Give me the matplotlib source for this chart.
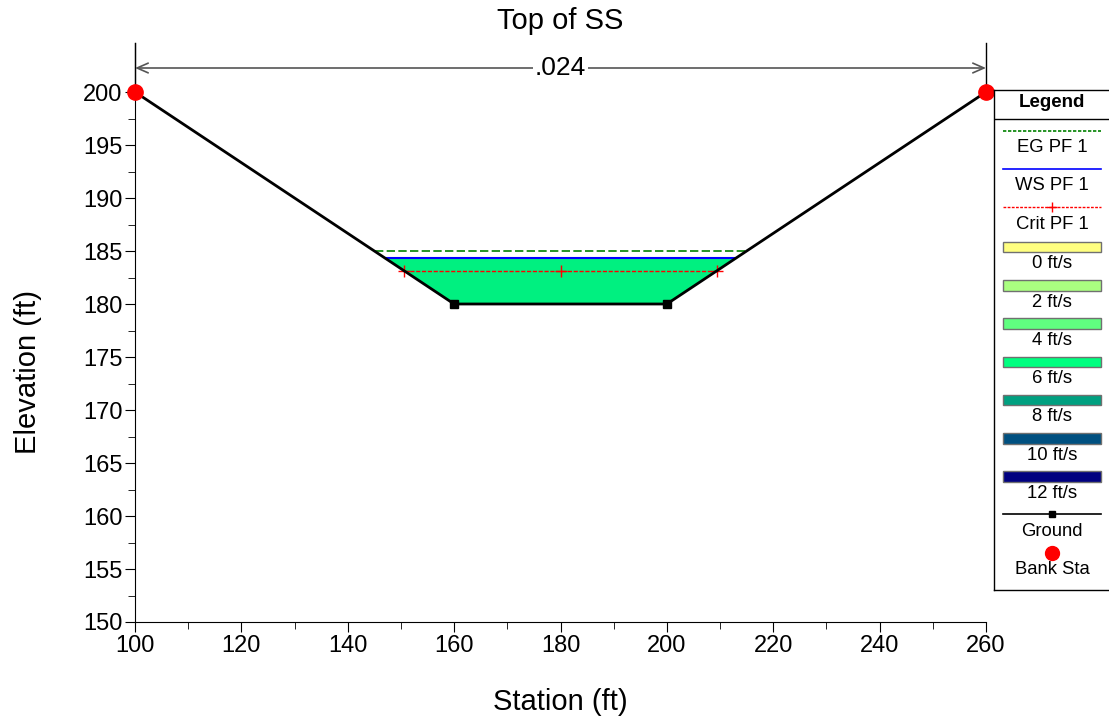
import numpy as np
import matplotlib
matplotlib.use("Agg")
import matplotlib.pyplot as plt
from matplotlib.patches import Rectangle, Polygon

plt.rcParams['font.family'] = ['Liberation Sans', 'DejaVu Sans']

# ---- data ----
station = [100, 160, 200, 260]
ground = [200, 180, 180, 200]
bank_sta = [100, 260]
bank_elev = [200, 200]
eg_elev = 184.98
ws_elev = 184.32
crit_elev = 183.15
n_value = ".024"
n_stations = [100, 260]
legend_labels = ["EG PF 1", "WS PF 1", "Crit PF 1", "0 ft/s", "2 ft/s", "4 ft/s",
                 "6 ft/s", "8 ft/s", "10 ft/s", "12 ft/s", "Ground", "Bank Sta"]
vel_colors = ["#FFFF80", "#AAFF80", "#60FF80", "#00FF80", "#00A080", "#005080", "#000080"]
water_color = "#00F080"

st = np.array(station, float)
gr = np.array(ground, float)


def crossings(level):
    # left and right stations where ground equals level
    left = np.interp(level, gr[:2][::-1], st[:2][::-1])
    right = np.interp(level, gr[2:], st[2:])
    return left, right


fig = plt.figure(figsize=(11.09, 7.22), dpi=100)
ax = fig.add_axes([135/1109, 100/722, (986-135)/1109, (622-43)/722])
ax.set_xlim(100, 260)
ax.set_ylim(150, 200 + 49/10.6)

# water polygon
wl, wr = crossings(ws_elev)
poly_x = [wl] + list(st[1:3]) + [wr]
poly_y = [ws_elev] + list(gr[1:3]) + [ws_elev]
ax.add_patch(Polygon(list(zip(poly_x, poly_y)), closed=True, facecolor=water_color,
                     edgecolor='none', zorder=1))

# EG
el, er = crossings(eg_elev)
ax.plot([el, er], [eg_elev, eg_elev], color='#008000', lw=1.2, ls=(0, (5, 2)), zorder=3)
# WS
ax.plot([wl, wr], [ws_elev, ws_elev], color='#0000FF', lw=1.5, zorder=3)
# Crit
cl, cr = crossings(crit_elev)
ax.plot([cl, (cl+cr)/2, cr], [crit_elev]*3, color='#FF0000', lw=1.0, ls=(0, (3, 1.2)),
        marker='+', ms=9, mew=1.0, zorder=3)

# Ground
ax.plot(st, gr, color='black', lw=2, zorder=4)
ax.plot(st[1:3], gr[1:3], ls='none', marker='s', ms=6, color='black', zorder=5)
# Bank stations
ax.plot(bank_sta, bank_elev, ls='none', marker='o', ms=11, color='#FF0000', zorder=6, clip_on=False)

# Manning's n annotation
ytop = ax.get_ylim()[1]
for s in n_stations:
    ax.plot([s, s], [200, ytop], color='black', lw=1, clip_on=False, zorder=2)
ya = 200 + 24/10.6
ax.annotate('', xy=(n_stations[0], ya), xytext=(n_stations[1], ya),
            arrowprops=dict(arrowstyle='<->,head_length=0.8,head_width=0.35', color='#555555', lw=1.2,
                            shrinkA=0, shrinkB=0))
ax.text(np.mean(n_stations), ya, n_value, ha='center', va='center', fontsize=19,
        bbox=dict(facecolor='white', edgecolor='none', pad=1.5), zorder=7)

# axes styling
for sp in ['top', 'right']:
    ax.spines[sp].set_visible(False)
ax.set_xticks(np.arange(100, 261, 20))
ax.set_xticks(np.arange(100, 261, 10), minor=True)
ax.set_yticks(np.arange(150, 201, 5))
ax.set_yticks(np.arange(150, 201, 2.5), minor=True)
ax.tick_params(which='major', length=7, labelsize=17, direction='out', pad=2)
ax.tick_params(which='minor', length=5)
ax.set_title("Top of SS", fontsize=21, pad=10)
ax.set_xlabel("Station (ft)", fontsize=21, va='center', ha='center')
ax.set_ylabel("Elevation (ft)", fontsize=21, va='center', ha='center')
ax.xaxis.set_label_coords(0.5, (622-702)/579)
ax.yaxis.set_label_coords((28-135)/851, (622-372)/579)

# ---- legend panel (pixel coordinates) ----
lx0, ly0, ly1 = 994, 90, 590
lg = fig.add_axes([lx0/1109, (722-ly1)/722, 130/1109, (ly1-ly0)/722])
lg.set_xlim(lx0, lx0 + 130)
lg.set_ylim(ly1, ly0)
lg.set_xticks([]); lg.set_yticks([])
for sp in lg.spines.values():
    sp.set_linewidth(1.0)
cx = 1052
fs = 13.3
lg.text(cx, 103, "Legend", ha='center', va='center', fontsize=13.5, fontweight='bold')
lg.plot([lx0, lx0+130], [119, 119], color='black', lw=1)
x0s, x1s = 1003, 1101
lg.plot([x0s, x1s], [131, 131], color='#008000', lw=1.2, ls=(0, (2, 1)))
lg.text(cx, 148, legend_labels[0], ha='center', va='center', fontsize=fs)
lg.plot([x0s, x1s], [169, 169], color='#0000FF', lw=1.2)
lg.text(cx, 186, legend_labels[1], ha='center', va='center', fontsize=fs)
lg.plot([x0s, x1s], [207, 207], color='#FF0000', lw=1, ls=(0, (2, 1)))
lg.plot([cx], [207], marker='+', color='#FF0000', ms=7, mew=1)
lg.text(cx, 225, legend_labels[2], ha='center', va='center', fontsize=fs)
for i, c in enumerate(vel_colors):
    yr = 242 + i * 38.2
    lg.add_patch(Rectangle((x0s, yr), x1s - x0s, 10.5, facecolor=c, edgecolor='#707070', lw=1))
    lg.text(cx, yr + 22, legend_labels[3 + i], ha='center', va='center', fontsize=fs)
lg.plot([x0s, x1s], [514, 514], color='black', lw=1.2)
lg.plot([cx], [514], marker='s', color='black', ms=5)
lg.text(cx, 531, legend_labels[10], ha='center', va='center', fontsize=fs)
lg.plot([cx], [553], marker='o', color='#FF0000', ms=10)
lg.text(cx, 570, legend_labels[11], ha='center', va='center', fontsize=fs)

fig.savefig("out.png", dpi=100)
